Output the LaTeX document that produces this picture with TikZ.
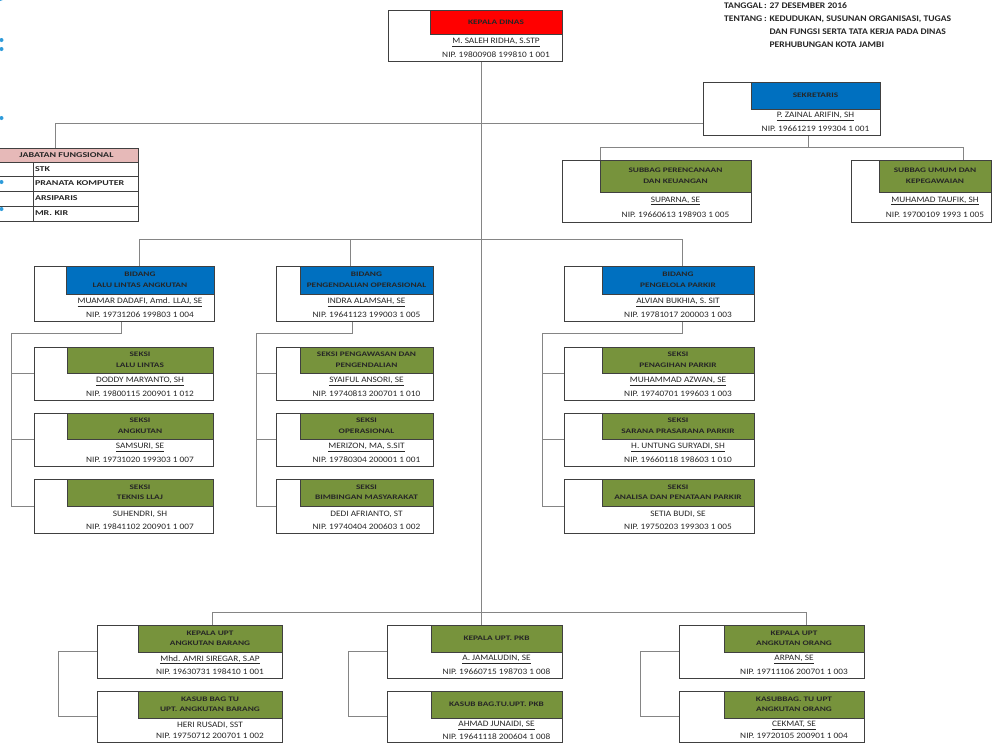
\documentclass[tikz,border=0pt]{standalone}
\usepackage{fontspec}
\setmainfont{Carlito}[FakeStretch=1.12]
\newfontfamily\hfam{Carlito}[FakeStretch=1.35]
\usetikzlibrary{calc,backgrounds}
\definecolor{hred}{HTML}{FF0000}
\definecolor{hblue}{HTML}{0070C0}
\definecolor{hgreen}{HTML}{77933C}
\definecolor{hpink}{HTML}{E6B9B8}
\definecolor{bline}{HTML}{404040}
\definecolor{cline}{HTML}{858585}
\definecolor{dotblue}{HTML}{2E9BDA}
\definecolor{tdark}{HTML}{262626}
\newcommand\hfont{\hfam\fontsize{6.9}{10.5}\selectfont\bfseries}
\newcommand\nfont{\fontsize{8.3}{9}\selectfont}
\newcommand\jfont{\hfam\fontsize{7.4}{8}\selectfont\bfseries}
\newcommand\OB[9]{%
  \node[obox, minimum width={#4-#2}, minimum height={#5-#3}] (#1) at (#2,#3) {};
  \node[hbox, fill=#8, minimum width={#4-#6}, minimum height={#7-#3}] (#1-h) at (#6,#3) {#9};
}
\newcommand\OT[3]{%
  \node[ntext] (#1-n) at ($(#1-h.south)!0.3!(#1-h.south |- #1.south)$) {#2};
  \node[ntext] (#1-p) at ($(#1-h.south)!0.76!(#1-h.south |- #1.south)$) {#3};
}
\begin{document}
\begin{tikzpicture}[x=1pt,y=-1pt,
  obox/.style={draw=bline, line width=0.7pt, fill=white, inner sep=0pt, outer sep=0pt, anchor=north west},
  hbox/.style={draw=bline, line width=0.7pt, inner sep=0pt, outer sep=0pt, anchor=north west, align=center, font=\hfont, text=tdark},
  ntext/.style={inner sep=0pt, font=\nfont, text=tdark},
  jcell/.style={draw=bline, line width=0.7pt, fill=white, inner sep=0pt, outer sep=0pt, anchor=north west},
  conn/.style={draw=cline, line width=0.8pt},
  bdot/.style={fill=dotblue, draw=none}]
\useasboundingbox (0,0) rectangle (993,742);

% ---------- boxes
\OB{kd}{388}{10}{562}{61}{430}{34}{hred}{KEPALA DINAS}
\OT{kd}{\underline{M. SALEH RIDHA, S.STP}}{NIP. 19800908 199810 1 001}

\OB{sek}{703}{82}{880}{135}{751}{109}{hblue}{SEKRETARIS}
\OT{sek}{\underline{P. ZAINAL ARIFIN, SH}}{NIP. 19661219 199304 1 001}

\OB{sp}{562}{160}{751}{222}{600}{192}{hgreen}{SUBBAG PERENCANAAN\\DAN KEUANGAN}
\OT{sp}{\underline{SUPARNA, SE}}{NIP. 19660613 198903 1 005}

\OB{su}{851}{160}{991}{222}{879}{192}{hgreen}{SUBBAG UMUM DAN\\KEPEGAWAIAN}
\OT{su}{\underline{MUHAMAD TAUFIK, SH}}{NIP. 19700109 1993 1 005}

\OB{b1}{34}{266}{214}{321}{66}{294}{hblue}{BIDANG\\LALU LINTAS ANGKUTAN}
\OT{b1}{\underline{MUAMAR DADAFI, Amd. LLAJ, SE}}{NIP. 19731206 199803 1 004}
\OB{b2}{276}{266}{433}{321}{300}{294}{hblue}{BIDANG\\PENGENDALIAN OPERASIONAL}
\OT{b2}{\underline{INDRA ALAMSAH, SE}}{NIP. 19641123 199003 1 005}
\OB{b3}{564}{266}{754}{321}{602}{294}{hblue}{BIDANG\\PENGELOLA PARKIR}
\OT{b3}{\underline{ALVIAN BUKHIA, S. SIT}}{NIP. 19781017 200003 1 003}

\OB{s11}{34}{347}{213}{400}{67}{373}{hgreen}{SEKSI\\LALU LINTAS}
\OT{s11}{\underline{DODDY MARYANTO, SH}}{NIP. 19800115 200901 1 012}
\OB{s12}{34}{413}{213}{466}{67}{439}{hgreen}{SEKSI\\ANGKUTAN}
\OT{s12}{\underline{SAMSURI, SE}}{NIP. 19731020 199303 1 007}
\OB{s13}{34}{479}{213}{533}{67}{506}{hgreen}{SEKSI\\TEKNIS LLAJ}
\OT{s13}{SUHENDRI, SH}{NIP. 19841102 200901 1 007}

\OB{s21}{276}{347}{433}{400}{300}{373}{hgreen}{SEKSI PENGAWASAN DAN\\PENGENDALIAN}
\OT{s21}{\underline{SYAIFUL ANSORI, SE}}{NIP. 19740813 200701 1 010}
\OB{s22}{276}{413}{433}{466}{300}{439}{hgreen}{SEKSI\\OPERASIONAL}
\OT{s22}{\underline{MERIZON, MA, S.SIT}}{NIP. 19780304 200001 1 001}
\OB{s23}{276}{479}{433}{533}{300}{506}{hgreen}{SEKSI\\BIMBINGAN MASYARAKAT}
\OT{s23}{DEDI AFRIANTO, ST}{NIP. 19740404 200603 1 002}

\OB{s31}{564}{347}{754}{400}{602}{373}{hgreen}{SEKSI\\PENAGIHAN PARKIR}
\OT{s31}{\underline{MUHAMMAD AZWAN, SE}}{NIP. 19740701 199603 1 003}
\OB{s32}{564}{413}{754}{466}{602}{439}{hgreen}{SEKSI\\SARANA PRASARANA PARKIR}
\OT{s32}{\underline{H. UNTUNG SURYADI, SH}}{NIP. 19660118 198603 1 010}
\OB{s33}{564}{479}{754}{533}{602}{506}{hgreen}{SEKSI\\ANALISA DAN PENATAAN PARKIR}
\OT{s33}{SETIA BUDI, SE}{NIP. 19750203 199303 1 005}

\OB{u1}{97}{625}{282}{678}{138}{652}{hgreen}{KEPALA UPT\\ANGKUTAN BARANG}
\OT{u1}{\underline{Mhd. AMRI SIREGAR, S.AP}}{NIP. 19630731 198410 1 001}
\OB{u1b}{97}{691}{282}{742}{138}{718}{hgreen}{KASUB BAG TU\\UPT. ANGKUTAN BARANG}
\OT{u1b}{HERI RUSADI, SST}{NIP. 19750712 200701 1 002}

\OB{u2}{387}{625}{562}{678}{431}{652}{hgreen}{KEPALA UPT. PKB}
\OT{u2}{\underline{A. JAMALUDIN, SE}}{NIP. 19660715 198703 1 008}
\OB{u2b}{387}{691}{562}{742}{431}{718}{hgreen}{KASUB BAG.TU.UPT. PKB}
\OT{u2b}{\underline{AHMAD JUNAIDI, SE}}{NIP. 19641118 200604 1 008}

\OB{u3}{679}{625}{864}{678}{724}{652}{hgreen}{KEPALA UPT\\ANGKUTAN ORANG}
\OT{u3}{\underline{ARPAN, SE}}{NIP. 19711106 200701 1 003}
\OB{u3b}{679}{691}{864}{742}{724}{718}{hgreen}{KASUBBAG. TU UPT\\ANGKUTAN ORANG}
\OT{u3b}{\underline{CEKMAT, SE}}{NIP. 19720105 200901 1 004}

% ---------- jabatan fungsional table
\node[jcell, fill=hpink, minimum width=143, minimum height=14, font=\jfont, text=tdark] (jf) at (-5,148) {JABATAN FUNGSIONAL};
\node[jcell, minimum width=38, minimum height=14] (jl1) at (-5,162) {};
\node[jcell, minimum height=14, text width=101, inner xsep=2pt, align=left, font=\jfont, text=tdark] (jr1) at (33,162) {STK};
\node[jcell, minimum width=38, minimum height=15] (jl2) at (-5,176) {};
\node[jcell, minimum height=15, text width=101, inner xsep=2pt, align=left, font=\jfont, text=tdark] (jr2) at (33,176) {PRANATA KOMPUTER};
\node[jcell, minimum width=38, minimum height=15] (jl3) at (-5,191) {};
\node[jcell, minimum height=15, text width=101, inner xsep=2pt, align=left, font=\jfont, text=tdark] (jr3) at (33,191) {ARSIPARIS};
\node[jcell, minimum width=38, minimum height=15] (jl4) at (-5,206) {};
\node[jcell, minimum height=15, text width=101, inner xsep=2pt, align=left, font=\jfont, text=tdark] (jr4) at (33,206) {MR. KIR};

% ---------- header note
\node[anchor=north west, inner sep=0pt, text=tdark, font=\fontsize{8.6}{13}\selectfont\bfseries] (note) at (724,-1)
  {\begin{tabular}{@{}l@{\,}l@{}}
   TANGGAL & : 27 DESEMBER 2016\\
   TENTANG & : KEDUDUKAN, SUSUNAN ORGANISASI, TUGAS\\
           & \phantom{: }DAN FUNGSI SERTA TATA KERJA PADA DINAS\\
           & \phantom{: }PERHUBUNGAN KOTA JAMBI
   \end{tabular}};

% ---------- junction coordinates
\coordinate (T) at (481,0);
\coordinate (J) at (55,123);
\coordinate (S) at (808,147);
\coordinate (SA) at (600,147);
\coordinate (SB) at (963,147);
\coordinate (B1) at (139,239);
\coordinate (B2) at (350,239);
\coordinate (B3) at (682,239);
\coordinate (D1) at (121,333);
\coordinate (D2) at (352,333);
\coordinate (D3) at (682,333);
\coordinate (L1) at (11,333);
\coordinate (L2) at (256,333);
\coordinate (L3) at (542,333);
\coordinate (U1) at (212,612);
\coordinate (U3) at (806,612);
\coordinate (P1) at (58,0);
\coordinate (P2) at (348,0);
\coordinate (P3) at (640,0);

% ---------- connectors (behind the boxes)
\begin{scope}[on background layer]
\fill[white] (0,0) rectangle (993,742);
\draw[conn] (kd.south -| T) -- (u2.north -| T);
\draw[conn] (jf.north -| J) -- (J) -- (J -| sek.west);
\draw[conn] (sek.south -| S) -- (S);
\draw[conn] (sp.north -| SA) -- (SA) -- (SB) -- (su.north -| SB);
\draw[conn] (b1.north -| B1) -- (B1) -- (B3) -- (b3.north -| B3);
\draw[conn] (B2) -- (b2.north -| B2);
\draw[conn] (b1.south -| D1) -- (D1) -- (L1) -- (L1 |- s13.west) -- (s13.west);
\draw[conn] (L1 |- s11.west) -- (s11.west);
\draw[conn] (L1 |- s12.west) -- (s12.west);
\draw[conn] (b2.south -| D2) -- (D2) -- (L2) -- (L2 |- s23.west) -- (s23.west);
\draw[conn] (L2 |- s21.west) -- (s21.west);
\draw[conn] (L2 |- s22.west) -- (s22.west);
\draw[conn] (b3.south -| D3) -- (D3) -- (L3) -- (L3 |- s33.west) -- (s33.west);
\draw[conn] (L3 |- s31.west) -- (s31.west);
\draw[conn] (L3 |- s32.west) -- (s32.west);
\draw[conn] (u1.north -| U1) -- (U1) -- (U3) -- (u3.north -| U3);
\draw[conn] (u1.west) -- (P1 |- u1.west) -- (P1 |- u1b.west) -- (u1b.west);
\draw[conn] (u2.west) -- (P2 |- u2.west) -- (P2 |- u2b.west) -- (u2b.west);
\draw[conn] (u3.west) -- (P3 |- u3.west) -- (P3 |- u3b.west) -- (u3b.west);
\end{scope}

% ---------- slide bullets on left edge
\draw[dotblue, line width=2pt] (0,0) arc[start angle=90, end angle=-30, radius=5];
\fill[bdot] (1.5,40) circle (2);
\fill[bdot] (1.5,49) circle (2);
\fill[bdot] (1.5,118) circle (2);
\fill[bdot] (1.5,182) circle (2);
\fill[bdot] (1.5,209) circle (2);
\end{tikzpicture}
\end{document}
